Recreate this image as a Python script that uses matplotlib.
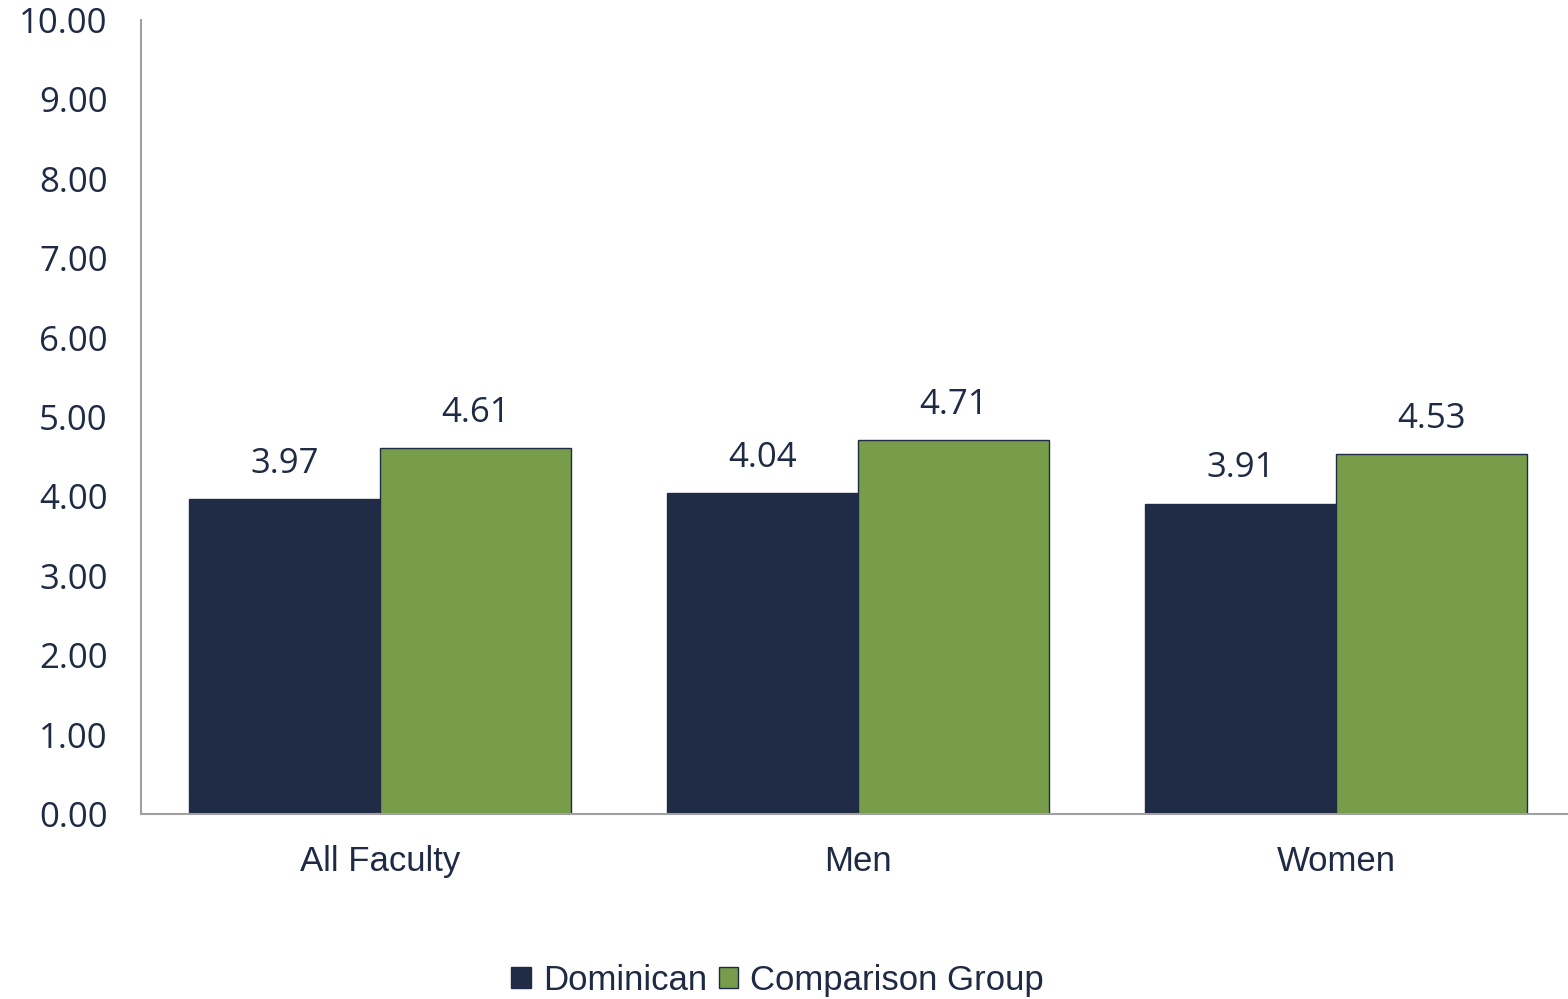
import matplotlib.pyplot as plt
import numpy as np

categories = ['All Faculty', 'Men', 'Women']
dominican = [3.97, 4.04, 3.91]
comparison = [4.61, 4.71, 4.53]
series_names = ['Dominican', 'Comparison Group']
yticks = [0, 1, 2, 3, 4, 5, 6, 7, 8, 9, 10]

navy = '#202B45'
green = '#789D4A'
text_color = '#1F2A44'
num_font = ['Open Sans', 'DejaVu Sans']

plt.rcParams['font.family'] = ['Liberation Sans', 'DejaVu Sans']

fig = plt.figure(figsize=(15.68, 9.99), dpi=100)
ax = fig.add_axes([0.0899, 0.1852, 0.9145, 0.7948])

x = np.arange(len(categories))
w = 0.4
b1 = ax.bar(x - w / 2, dominican, w, color=navy, edgecolor=navy, linewidth=1, label=series_names[0])
b2 = ax.bar(x + w / 2, comparison, w, color=green, edgecolor=navy, linewidth=1, label=series_names[1])

# value labels above each bar
for bars, vals in ((b1, dominican), (b2, comparison)):
    for bar, v in zip(bars, vals):
        ax.annotate(f'{v:.2f}', (bar.get_x() + bar.get_width() / 2, v),
                    xytext=(0, 13), textcoords='offset points',
                    ha='center', va='bottom', fontsize=25, color=text_color,
                    family=num_font)

ax.set_xlim(-0.5, 2.5)
ax.set_ylim(0, 10)
ax.set_yticks(yticks)
ax.set_yticklabels([f'{t:.2f}' for t in yticks], fontsize=25, color=text_color,
                   family=num_font)
ax.set_xticks(x)
ax.set_xticklabels(categories, fontsize=25, color=text_color)
ax.tick_params(axis='both', length=0)
ax.tick_params(axis='y', pad=24)
ax.tick_params(axis='x', pad=22)

for side in ('top', 'right'):
    ax.spines[side].set_visible(False)
for side in ('left', 'bottom'):
    ax.spines[side].set_color('#A0A0A0')
    ax.spines[side].set_linewidth(1.5)

fig.legend(handles=[b1, b2], labels=series_names, loc='center', bbox_to_anchor=(0.496, 0.019),
           ncol=2, frameon=False, fontsize=25, handlelength=0.55, handleheight=0.55,
           handletextpad=0.35, columnspacing=0.35, labelcolor=text_color)

fig.savefig('out.png', dpi=100)
